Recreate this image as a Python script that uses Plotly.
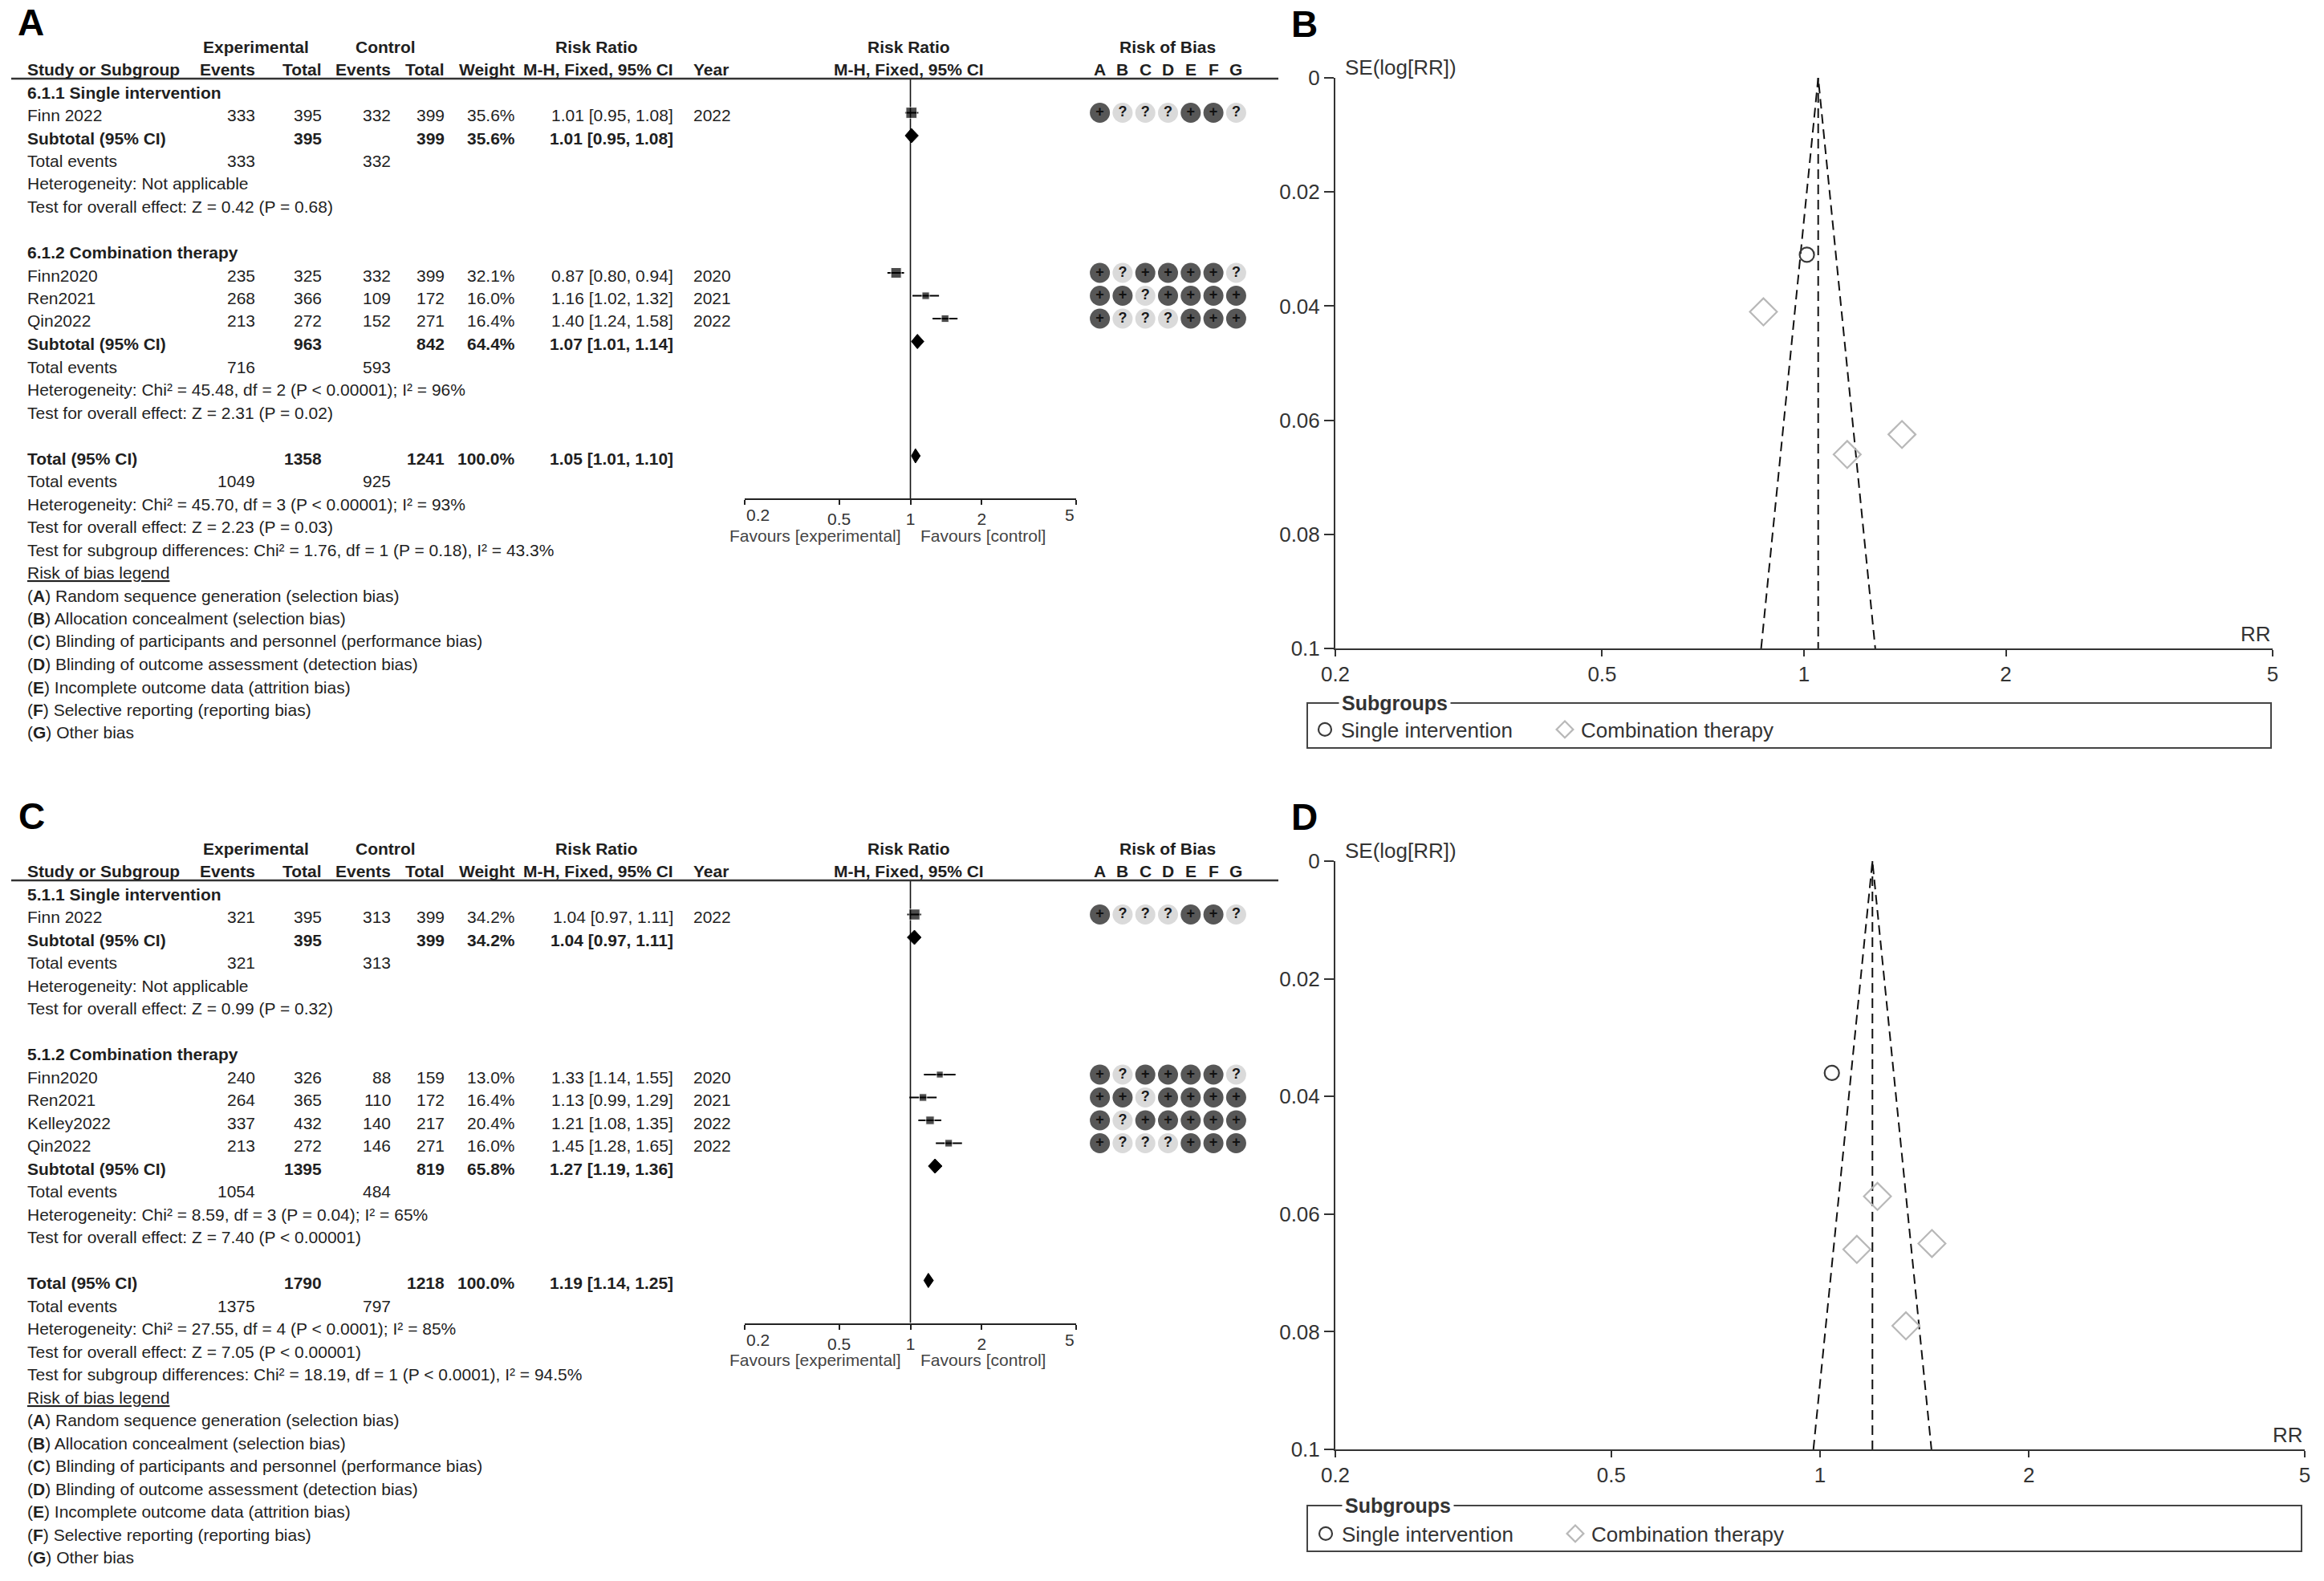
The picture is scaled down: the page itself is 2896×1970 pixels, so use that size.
import math
import plotly.graph_objects as go

W, H = 2896, 1970
FONT = "Liberation Sans, Arial, Helvetica, sans-serif"
INK = "#1f1f1f"

# ---------------- Panel A data (outcome 6) ----------------
A_subgroups = ["6.1.1 Single intervention", "6.1.2 Combination therapy"]
A_study = ["Finn 2022", "Finn2020", "Ren2021", "Qin2022"]
A_group = [0, 1, 1, 1]
A_exp_events = [333, 235, 268, 213]
A_exp_total = [395, 325, 366, 272]
A_ctl_events = [332, 332, 109, 152]
A_ctl_total = [399, 399, 172, 271]
A_weight = [35.6, 32.1, 16.0, 16.4]
A_rr = [1.01, 0.87, 1.16, 1.40]
A_lo = [0.95, 0.80, 1.02, 1.24]
A_hi = [1.08, 0.94, 1.32, 1.58]
A_year = [2022, 2020, 2021, 2022]
A_rob = ["+???++?", "+?++++?", "++?++++", "+???+++"]
A_sub_exp_total = [395, 963]
A_sub_ctl_total = [399, 842]
A_sub_weight = [35.6, 64.4]
A_sub_rr = [1.01, 1.07]
A_sub_lo = [0.95, 1.01]
A_sub_hi = [1.08, 1.14]
A_sub_exp_events = [333, 716]
A_sub_ctl_events = [332, 593]
A_sub_het = ["Heterogeneity: Not applicable",
             "Heterogeneity: Chi² = 45.48, df = 2 (P &lt; 0.00001); I² = 96%"]
A_sub_z = ["Test for overall effect: Z = 0.42 (P = 0.68)",
           "Test for overall effect: Z = 2.31 (P = 0.02)"]
A_tot = [1358, 1241, 1.05, 1.01, 1.10, 1049, 925]  # exp total, ctl total, rr, lo, hi, exp ev, ctl ev
A_tot_notes = ["Heterogeneity: Chi² = 45.70, df = 3 (P &lt; 0.00001); I² = 93%",
               "Test for overall effect: Z = 2.23 (P = 0.03)",
               "Test for subgroup differences: Chi² = 1.76, df = 1 (P = 0.18), I² = 43.3%"]

# ---------------- Panel C data (outcome 5) ----------------
C_subgroups = ["5.1.1 Single intervention", "5.1.2 Combination therapy"]
C_study = ["Finn 2022", "Finn2020", "Ren2021", "Kelley2022", "Qin2022"]
C_group = [0, 1, 1, 1, 1]
C_exp_events = [321, 240, 264, 337, 213]
C_exp_total = [395, 326, 365, 432, 272]
C_ctl_events = [313, 88, 110, 140, 146]
C_ctl_total = [399, 159, 172, 217, 271]
C_weight = [34.2, 13.0, 16.4, 20.4, 16.0]
C_rr = [1.04, 1.33, 1.13, 1.21, 1.45]
C_lo = [0.97, 1.14, 0.99, 1.08, 1.28]
C_hi = [1.11, 1.55, 1.29, 1.35, 1.65]
C_year = [2022, 2020, 2021, 2022, 2022]
C_rob = ["+???++?", "+?++++?", "++?++++", "+?+++++", "+???+++"]
C_sub_exp_total = [395, 1395]
C_sub_ctl_total = [399, 819]
C_sub_weight = [34.2, 65.8]
C_sub_rr = [1.04, 1.27]
C_sub_lo = [0.97, 1.19]
C_sub_hi = [1.11, 1.36]
C_sub_exp_events = [321, 1054]
C_sub_ctl_events = [313, 484]
C_sub_het = ["Heterogeneity: Not applicable",
             "Heterogeneity: Chi² = 8.59, df = 3 (P = 0.04); I² = 65%"]
C_sub_z = ["Test for overall effect: Z = 0.99 (P = 0.32)",
           "Test for overall effect: Z = 7.40 (P &lt; 0.00001)"]
C_tot = [1790, 1218, 1.19, 1.14, 1.25, 1375, 797]
C_tot_notes = ["Heterogeneity: Chi² = 27.55, df = 4 (P &lt; 0.0001); I² = 85%",
               "Test for overall effect: Z = 7.05 (P &lt; 0.00001)",
               "Test for subgroup differences: Chi² = 18.19, df = 1 (P &lt; 0.0001), I² = 94.5%"]

# ---------------- Funnel plots (B from A, D from C) ----------------
B_pooled = 1.05
B_se = [0.031, 0.041, 0.066, 0.0625]
D_pooled = 1.19
D_se = [0.036, 0.079, 0.066, 0.057, 0.065]
SE_MAX = 0.1

ROB_LETTERS = ["A", "B", "C", "D", "E", "F", "G"]
ROB_LEGEND = ["Random sequence generation (selection bias)",
              "Allocation concealment (selection bias)",
              "Blinding of participants and personnel (performance bias)",
              "Blinding of outcome assessment (detection bias)",
              "Incomplete outcome data (attrition bias)",
              "Selective reporting (reporting bias)",
              "Other bias"]
FOREST_TICKS = [0.2, 0.5, 1, 2, 5]
SE_TICKS = [0, 0.02, 0.04, 0.06, 0.08, 0.1]

# ---------------- layout constants (pixels) ----------------
STEP = 28.5
COL_STUDY, COL_EE, COL_ET, COL_CE, COL_CT, COL_W, COL_CI, COL_YEAR = 32, 320, 403, 489, 556, 644, 841, 862
ROB_X0, ROB_DX = 1370.6, 28.3
MARK_DY = -3

fig = go.Figure()
ANN = []
SHAPES = []
LAYOUT = {}


def T(x, y, s, size=21, anchor="left", bold=False, color=INK, bg=None, pad=1):
    if bold:
        s = "<b>" + s + "</b>"
    a = dict(x=x / W, y=1 - y / H, xref="paper", yref="paper", text=s, showarrow=False,
             xanchor=anchor, yanchor="middle", borderpad=pad,
             font=dict(family=FONT, size=size, color=color))
    if bg:
        a["bgcolor"] = bg
    ANN.append(a)


def ci(r, l, h):
    return f"{r:.2f} [{l:.2f}, {h:.2f}]"


def draw_forest(num, base, subgroups, study, group, ee, et, ce, ct, wt, rr, lo, hi, yr, rob,
                s_et, s_ct, s_w, s_rr, s_lo, s_hi, s_ee, s_ce, s_het, s_z, tot, tot_notes):
    xa, ya = ("x", "y") if num == 1 else ("x%d" % num, "y%d" % num)
    xk, yk = ("xaxis", "yaxis") if num == 1 else ("xaxis%d" % num, "yaxis%d" % num)

    def Y(i):
        return base + i * STEP

    h1, h2, ul = base - 57, base - 29, base - 17
    T(319, h1, "Experimental", bold=True, anchor="center")
    T(480, h1, "Control", bold=True, anchor="center")
    T(743, h1, "Risk Ratio", bold=True, anchor="center")
    T(1132, h1, "Risk Ratio", bold=True, anchor="center")
    T(ROB_X0 + 3 * ROB_DX, h1, "Risk of Bias", bold=True, anchor="center")
    T(COL_STUDY, h2, "Study or Subgroup", bold=True)
    for col, lab in [(COL_EE, "Events"), (COL_ET, "Total"), (COL_CE, "Events"), (COL_CT, "Total"),
                     (COL_W, "Weight"), (COL_CI, "M-H, Fixed, 95% CI")]:
        T(col, h2, lab, bold=True, anchor="right")
    T(COL_YEAR, h2, "Year", bold=True)
    T(1132, h2, "M-H, Fixed, 95% CI", bold=True, anchor="center")
    for j, L in enumerate(ROB_LETTERS):
        T(ROB_X0 + j * ROB_DX, h2, L, bold=True, anchor="center")
    SHAPES.append(dict(type="line", xref="paper", yref="paper", x0=14 / W, x1=1593 / W,
                       y0=1 - ul / H, y1=1 - ul / H, line=dict(color="#333", width=2.5)))

    i = 0
    st_idx, st_y = [], []
    dia = []
    for g, name in enumerate(subgroups):
        T(COL_STUDY, Y(i), name, bold=True)
        i += 1
        for k in range(len(study)):
            if group[k] != g:
                continue
            y = Y(i)
            T(COL_STUDY, y, study[k])
            T(COL_EE, y, str(ee[k]), anchor="right")
            T(COL_ET, y, str(et[k]), anchor="right")
            T(COL_CE, y, str(ce[k]), anchor="right")
            T(COL_CT, y, str(ct[k]), anchor="right")
            T(COL_W, y, f"{wt[k]:.1f}%", anchor="right")
            T(COL_CI, y, ci(rr[k], lo[k], hi[k]), anchor="right")
            T(COL_YEAR, y, str(yr[k]))
            st_idx.append(k)
            st_y.append(y + MARK_DY)
            i += 1
        y = Y(i)
        T(COL_STUDY, y, "Subtotal (95% CI)", bold=True)
        T(COL_ET, y, str(s_et[g]), anchor="right", bold=True)
        T(COL_CT, y, str(s_ct[g]), anchor="right", bold=True)
        T(COL_W, y, f"{s_w[g]:.1f}%", anchor="right", bold=True)
        T(COL_CI, y, ci(s_rr[g], s_lo[g], s_hi[g]), anchor="right", bold=True)
        dia.append((s_rr[g], s_lo[g], s_hi[g], y + MARK_DY))
        i += 1
        y = Y(i)
        T(COL_STUDY, y, "Total events")
        T(COL_EE, y, str(s_ee[g]), anchor="right")
        T(COL_CE, y, str(s_ce[g]), anchor="right")
        i += 1
        T(COL_STUDY, Y(i), s_het[g])
        i += 1
        T(COL_STUDY, Y(i), s_z[g])
        i += 2
    y = Y(i)
    total_y = y
    T(COL_STUDY, y, "Total (95% CI)", bold=True)
    T(COL_ET, y, str(tot[0]), anchor="right", bold=True)
    T(COL_CT, y, str(tot[1]), anchor="right", bold=True)
    T(COL_W, y, "100.0%", anchor="right", bold=True)
    T(COL_CI, y, ci(tot[2], tot[3], tot[4]), anchor="right", bold=True)
    dia.append((tot[2], tot[3], tot[4], y + MARK_DY))
    i += 1
    y = Y(i)
    T(COL_STUDY, y, "Total events")
    T(COL_EE, y, str(tot[5]), anchor="right")
    T(COL_CE, y, str(tot[6]), anchor="right")
    i += 1
    for note in tot_notes:
        T(COL_STUDY, Y(i), note)
        i += 1
    T(COL_STUDY, Y(i), "<u>Risk of bias legend</u>")
    i += 1
    for j, L in enumerate(ROB_LETTERS):
        T(COL_STUDY, Y(i), f"(<b>{L}</b>) {ROB_LEGEND[j]}")
        i += 1

    axis_y = total_y + 50
    # line of no effect
    fig.add_trace(go.Scatter(x=[1, 1], y=[ul, axis_y], mode="lines", xaxis=xa, yaxis=ya,
                             line=dict(color="#111", width=1.6), showlegend=False, hoverinfo="skip"))
    # study squares with CIs
    fig.add_trace(go.Scatter(
        x=[rr[k] for k in st_idx], y=st_y, mode="markers", xaxis=xa, yaxis=ya,
        marker=dict(symbol="square", color="black", size=[2.3 * math.sqrt(wt[k]) for k in st_idx]),
        error_x=dict(type="data", symmetric=False, array=[hi[k] - rr[k] for k in st_idx],
                     arrayminus=[rr[k] - lo[k] for k in st_idx], color="black", thickness=2, width=0),
        showlegend=False, hoverinfo="skip"))
    # pooled diamonds
    dx, dy = [], []
    for (r, l, h, yc) in dia:
        dx += [l, r, h, r, l, None]
        dy += [yc, yc - 9, yc, yc + 9, yc, None]
    fig.add_trace(go.Scatter(x=dx, y=dy, mode="lines", fill="toself", fillcolor="black",
                             line=dict(color="black", width=1), xaxis=xa, yaxis=ya,
                             showlegend=False, hoverinfo="skip"))
    tick_txt = [str(t) for t in FOREST_TICKS]
    tick_txt[0] = " "
    tick_txt[-1] = " "
    LAYOUT[xk] = dict(domain=[928 / W, 1341 / W], type="log", anchor=ya,
                      range=[math.log10(0.2), math.log10(5)],
                      tickvals=FOREST_TICKS, ticktext=tick_txt,
                      ticks="outside", ticklen=6, tickwidth=2, tickcolor="#222",
                      showline=True, linecolor="#222", linewidth=2, showgrid=False, zeroline=False,
                      tickfont=dict(family=FONT, size=21, color="#333"), fixedrange=True)
    LAYOUT[yk] = dict(domain=[1 - axis_y / H, 1 - ul / H], range=[axis_y, ul], anchor=xa,
                      visible=False, fixedrange=True)
    # end tick labels sit inside the axis ends (as in RevMan)
    T(928, axis_y + 21, str(FOREST_TICKS[0]), anchor="left", color="#333")
    T(1341, axis_y + 21, str(FOREST_TICKS[-1]), anchor="right", color="#333")
    T(1125, axis_y + 46, "Favours [experimental]", anchor="right", color="#444")
    T(1145, axis_y + 46, "Favours [control]", anchor="left", color="#444")

    # risk of bias judgements
    rx, ry, rt, rc, tc = [], [], [], [], []
    for n, k in enumerate(st_idx):
        for j, mark in enumerate(rob[k]):
            rx.append(ROB_X0 + j * ROB_DX)
            ry.append(st_y[n])
            rt.append("<b>+</b>" if mark == "+" else "<b>?</b>")
            rc.append("#575757" if mark == "+" else "#dadada")
            tc.append("#111" if mark == "+" else "#1a1a1a")
    fig.add_trace(go.Scatter(x=rx, y=ry, mode="markers+text", xaxis="x9", yaxis="y9",
                             marker=dict(size=25, color=rc, line=dict(width=0)),
                             text=rt, textposition="middle center",
                             textfont=dict(family=FONT, size=18, color=tc),
                             showlegend=False, hoverinfo="skip"))


draw_forest(1, 115, A_subgroups, A_study, A_group, A_exp_events, A_exp_total, A_ctl_events, A_ctl_total,
            A_weight, A_rr, A_lo, A_hi, A_year, A_rob, A_sub_exp_total, A_sub_ctl_total, A_sub_weight,
            A_sub_rr, A_sub_lo, A_sub_hi, A_sub_exp_events, A_sub_ctl_events, A_sub_het, A_sub_z,
            A_tot, A_tot_notes)
draw_forest(2, 1114, C_subgroups, C_study, C_group, C_exp_events, C_exp_total, C_ctl_events, C_ctl_total,
            C_weight, C_rr, C_lo, C_hi, C_year, C_rob, C_sub_exp_total, C_sub_ctl_total, C_sub_weight,
            C_sub_rr, C_sub_lo, C_sub_hi, C_sub_exp_events, C_sub_ctl_events, C_sub_het, C_sub_z,
            C_tot, C_tot_notes)

LAYOUT["xaxis9"] = dict(domain=[0, 1], range=[0, W], visible=False, fixedrange=True, anchor="y9")
LAYOUT["yaxis9"] = dict(domain=[0, 1], range=[H, 0], visible=False, fixedrange=True, anchor="x9")


def draw_funnel(num, x0, x1, ytop, ybot, pooled, rr, se, group, legend_key, box, sub_x):
    xa, ya = "x%d" % num, "y%d" % num
    # pseudo 95% confidence limits and pooled estimate
    lim_lo = pooled * math.exp(-1.96 * SE_MAX)
    lim_hi = pooled * math.exp(1.96 * SE_MAX)
    fig.add_trace(go.Scatter(x=[lim_lo, pooled, lim_hi], y=[SE_MAX, 0, SE_MAX], mode="lines",
                             xaxis=xa, yaxis=ya, line=dict(color="#111", width=2, dash="12px,7px"),
                             showlegend=False, hoverinfo="skip"))
    fig.add_trace(go.Scatter(x=[pooled, pooled], y=[0, SE_MAX], mode="lines",
                             xaxis=xa, yaxis=ya, line=dict(color="#111", width=2, dash="12px,7px"),
                             showlegend=False, hoverinfo="skip"))
    for g, (nm, sym, col, sz) in enumerate([("Single intervention", "circle-open", "#3a3a3a", 18),
                                           ("Combination therapy", "diamond-open", "#b8b8b8", 26)]):
        fig.add_trace(go.Scatter(
            x=[rr[k] for k in range(len(rr)) if group[k] == g],
            y=[se[k] for k in range(len(rr)) if group[k] == g],
            mode="markers", name=nm, xaxis=xa, yaxis=ya, legend=legend_key,
            marker=dict(symbol=sym, size=sz, color=col, line=dict(width=2.2, color=col)),
            hoverinfo="skip"))
    axfont = dict(family=FONT, size=26, color="#333")
    LAYOUT["xaxis%d" % num] = dict(domain=[x0 / W, x1 / W], type="log", anchor=ya,
                                   range=[math.log10(0.2), math.log10(5)],
                                   tickvals=FOREST_TICKS, ticktext=[str(t) for t in FOREST_TICKS],
                                   ticks="outside", ticklen=8, tickwidth=2, tickcolor="#333",
                                   showline=True, linecolor="#333", linewidth=2, showgrid=False,
                                   zeroline=False, tickfont=axfont, fixedrange=True)
    LAYOUT["yaxis%d" % num] = dict(domain=[1 - ybot / H, 1 - ytop / H], range=[SE_MAX, 0], anchor=xa,
                                   tickvals=SE_TICKS, ticktext=["0", "0.02", "0.04", "0.06", "0.08", "0.1"],
                                   ticks="outside", ticklen=12, tickwidth=2, tickcolor="#333",
                                   showline=True, linecolor="#333", linewidth=2, showgrid=False,
                                   zeroline=False, tickfont=axfont, fixedrange=True)
    T(x0 + 10, ytop - 13, "SE(log[RR])", size=26, color="#333")
    T(x1, ybot - 18, "RR", size=26, color="#333", anchor="right")
    bx0, by0, bx1, by1 = box
    SHAPES.append(dict(type="rect", xref="paper", yref="paper", x0=bx0 / W, x1=bx1 / W,
                       y0=1 - by1 / H, y1=1 - by0 / H, line=dict(color="#444", width=2)))
    T(sub_x, by0, "Subgroups", size=25, bold=True, color="#333", bg="white", pad=3)


draw_funnel(3, 1664, 2832, 97, 808, B_pooled, A_rr, B_se, A_group, "legend",
            (1629, 876, 2830, 932), 1668)
draw_funnel(4, 1664, 2872, 1073, 1806, D_pooled, C_rr, D_se, C_group, "legend2",
            (1629, 1876, 2868, 1933), 1672)

# panel letters
for lab, x, y in [("A", 20, 28), ("B", 1607, 30), ("C", 21, 1017), ("D", 1607, 1018)]:
    T(x, y, lab, size=46, bold=True, color="#000")

legfont = dict(family=FONT, size=26, color="#333")
fig.update_layout(
    width=W, height=H, margin=dict(l=0, r=0, t=0, b=0, autoexpand=False),
    paper_bgcolor="white", plot_bgcolor="rgba(0,0,0,0)",
    annotations=ANN, shapes=SHAPES, showlegend=True,
    legend=dict(x=1631 / W, y=1 - 909 / H, xanchor="left", yanchor="middle", orientation="h",
                bgcolor="rgba(0,0,0,0)", borderwidth=0, font=legfont, entrywidth=254,
                entrywidthmode="pixels", itemclick=False, itemdoubleclick=False),
    legend2=dict(x=1632 / W, y=1 - 1911 / H, xanchor="left", yanchor="middle", orientation="h",
                 bgcolor="rgba(0,0,0,0)", borderwidth=0, font=legfont, entrywidth=266,
                 entrywidthmode="pixels", itemclick=False, itemdoubleclick=False),
    **LAYOUT,
)

fig.write_html("out.html", config={"displayModeBar": False},
               post_script="document.body.style.margin='0';document.body.style.overflow='hidden';")
